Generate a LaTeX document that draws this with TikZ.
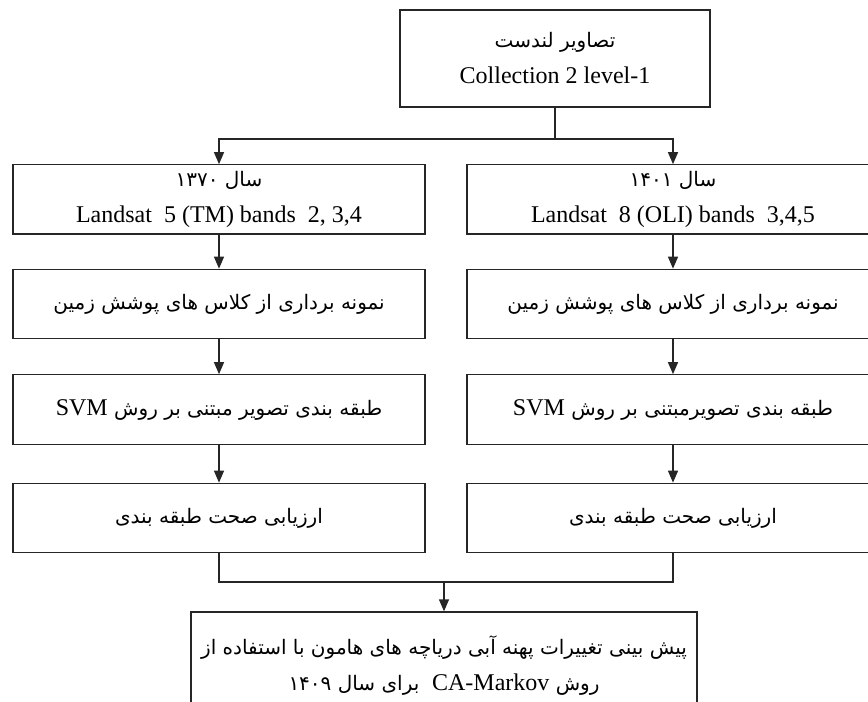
\documentclass[tikz,border=0pt]{standalone}
\usepackage{fontspec}
\setmainfont{Liberation Serif}
\newfontfamily\farsi[Script=Arabic]{DejaVu Sans}
\TeXXeTstate=1
\usetikzlibrary{arrows.meta,positioning}
\newcommand{\fa}[1]{{\farsi\fontsize{15}{27}\selectfont\beginR #1\endR}}
\newcommand{\en}[1]{\beginL{\rmfamily\fontsize{18}{27}\selectfont #1}\endL{}}
\newcommand{\fanum}[1]{\beginL #1\endL{}}

\begin{document}
\begin{tikzpicture}[x=0.75pt,y=-0.75pt]
  \tikzset{
    box/.style={draw=black!85, line width=1pt, inner sep=2pt, align=center,
      font=\fontsize{18}{27}\selectfont},
    colbox/.style={box, minimum width=309pt, minimum height=52pt},
    link/.style={draw=black!85, line width=1pt},
    arr/.style={link, -{Triangle[length=9pt,width=7.5pt]}}
  }
  \useasboundingbox (0,0) rectangle (868,702);
  \clip (0,0) rectangle (868,702);
  % source images
  \node[box, minimum width=232.5pt, minimum height=72.75pt] (top) at (555,58.5)
    {\fa{تصاویر لندست}\\Collection 2 level-1};
  % left column: 1370
  \node[colbox] (l1) at (219,199.5)
    {\fa{سال \fanum{۱۳۷۰}}\\Landsat\ \ 5 (TM) bands\ \ 2, 3,4};
  \node[colbox] (l2) at (219,304) {\fa{نمونه برداری از کلاس های پوشش زمین}};
  \node[colbox] (l3) at (219,409.5) {\fa{طبقه بندی تصویر مبتنی بر روش \en{SVM}}};
  \node[colbox] (l4) at (219,518) {\fa{ارزیابی صحت طبقه بندی}};
  % right column: 1401
  \node[colbox] (r1) at (673,199.5)
    {\fa{سال \fanum{۱۴۰۱}}\\Landsat\ \ 8 (OLI) bands\ \ 3,4,5};
  \node[colbox] (r2) at (673,304) {\fa{نمونه برداری از کلاس های پوشش زمین}};
  \node[colbox] (r3) at (673,409.5) {\fa{طبقه بندی تصویرمبتنی بر روش \en{SVM}}};
  \node[colbox] (r4) at (673,518) {\fa{ارزیابی صحت طبقه بندی}};
  % prediction
  \node[box, minimum width=379.5pt, minimum height=81pt] (bot) at (444,666)
    {\fa{پیش بینی تغییرات پهنه آبی دریاچه های هامون با استفاده از}\\
     \fa{روش \en{CA-Markov}\ \ برای سال \fanum{۱۴۰۹}}};
  \coordinate (split) at (555,139);
  \coordinate (merge) at (444,582);
  \draw[link] (top) -- (split);
  \draw[arr] (split) -| (l1);
  \draw[arr] (split) -| (r1);
  \foreach \a/\b in {l1/l2,l2/l3,l3/l4,r1/r2,r2/r3,r3/r4}
    \draw[arr] (\a) -- (\b);
  \draw[link] (l4) |- (merge) -| (r4);
  \draw[arr] (merge) -- (bot);
\end{tikzpicture}
\end{document}
